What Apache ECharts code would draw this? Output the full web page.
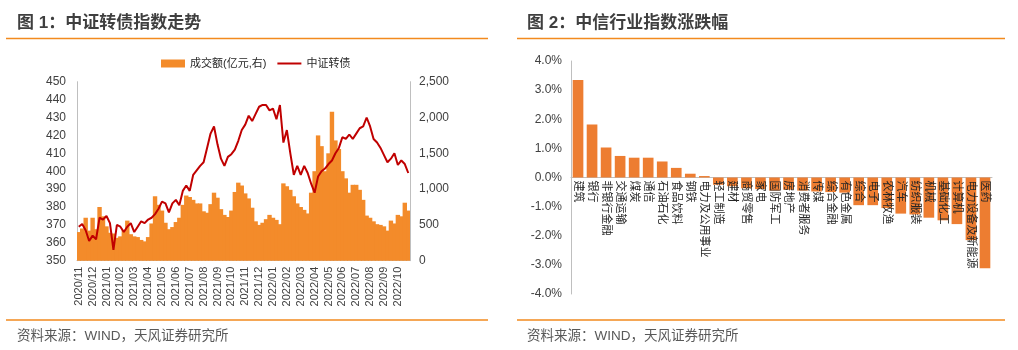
<!DOCTYPE html>
<html>
<head>
<meta charset="utf-8">
<script src="https://cdn.jsdelivr.net/npm/echarts@6/dist/echarts.min.js"></script>
<style>
  html, body { margin: 0; padding: 0; background: #fff; }
  #main { width: 1018px; height: 350px; }
</style>
</head>
<body>
<div id="main"></div>
<script>
// 图1：月份（每月 4 个观察点，约按周）
const months = ['2020/11', '2020/12', '2021/01', '2021/02', '2021/03', '2021/04', '2021/05', '2021/06',
  '2021/07', '2021/08', '2021/09', '2021/10', '2021/11', '2021/12', '2022/01', '2022/02',
  '2022/03', '2022/04', '2022/05', '2022/06', '2022/07', '2022/08', '2022/09', '2022/10'];

// 中证转债（左轴）
const bondIndex = [
  369, 370.5, 367, 361, 364, 362, 374, 373, 375, 371, 356, 370,
  369, 366, 369, 371, 366, 369, 372, 371, 373, 374, 376, 379,
  383, 382, 377, 382, 384, 381, 389, 392, 389, 398, 400.5, 403,
  405, 413, 421, 425, 415, 407, 403, 408, 409.5, 412, 417, 423,
  426, 431, 428, 432, 436, 437, 437, 434, 435, 429, 437, 416,
  423, 410, 398, 403, 398, 403, 399, 393, 388, 397, 400, 401.5,
  404, 406, 410, 413, 419, 418, 420.5, 418, 421, 424, 425, 430,
  425, 418, 416, 413, 409, 405, 407, 410, 403.5, 406, 404, 399
];

// 成交额（亿元，右轴）
const turnover = [
  400, 450, 600, 420, 600, 440, 750, 620, 480, 390, 380, 320,
  340, 430, 560, 370, 340, 330, 290, 270, 330, 520, 900, 780,
  700, 530, 440, 470, 540, 600, 780, 910, 890, 850, 800, 800,
  690, 670, 790, 950, 880, 720, 640, 610, 700, 960, 1090, 1050,
  940, 870, 740, 550, 500, 530, 580, 640, 600, 570, 510, 1080,
  1040, 990, 900, 800, 750, 710, 660, 950, 1250, 1750, 1600, 1250,
  1500, 2080, 1680, 1560, 1250, 1150, 950, 1060, 1060, 990, 850, 630,
  600, 550, 510, 500, 480, 420, 560, 520, 640, 620, 810, 700
];

// 图2：中信行业指数涨跌幅（%）
const industries = ['建筑', '银行', '非银行金融', '交通运输', '煤炭', '通信', '石油石化', '食品饮料',
  '钢铁', '电力及公用事业', '轻工制造', '建材', '商贸零售', '家电', '国防军工', '房地产',
  '消费者服务', '传媒', '综合金融', '有色金属', '综合', '电子', '农林牧渔', '汽车',
  '纺织服装', '机械', '基础化工', '计算机', '电力设备及新能源', '医药'];
const changes = [3.35, 1.82, 1.03, 0.74, 0.68, 0.68, 0.55, 0.33,
  0.13, 0.05, -0.25, -0.3, -0.37, -0.4, -0.45, -0.42,
  -0.45, -0.48, -0.5, -0.52, -0.95, -0.95, -1.05, -1.24,
  -1.27, -1.38, -1.47, -1.6, -2.15, -3.12];

const PER_MONTH = 4;
const FONT = '"Liberation Sans", "Noto Sans CJK SC", sans-serif';
const ORANGE_RULE = '#F28A1E';
const AXIS_GRAY = '#BFBFBF';
const TEXT = '#404040';
const BAR1 = '#F38B2A';

// 图2 网格：0 轴位于正中，类目标签贴着 0 轴
const G2_TOP = 61, G2_H = 233;

// 类目：每月 4 个点，标签只在每月第一个点显示
const cats = [];
months.forEach(m => {
  for (let k = 0; k < PER_MONTH; k++) cats.push(m + '#' + k);
});

const chart = echarts.init(document.getElementById('main'), null, { renderer: 'canvas' });

function titleText(x, str) {
  return {
    type: 'text',
    x: x, y: 23.5,
    style: {
      text: str,
      fontSize: 17,
      fontWeight: 'bold',
      fontFamily: FONT,
      fill: '#3F3F3F',
      verticalAlign: 'middle'
    }
  };
}
function rule(x1, x2, y) {
  return {
    type: 'line',
    shape: { x1: x1, y1: y, x2: x2, y2: y },
    style: { stroke: ORANGE_RULE, lineWidth: 1.5 }
  };
}
function source(x) {
  return {
    type: 'text',
    x: x, y: 336.5,
    style: {
      text: '资料来源：WIND，天风证券研究所',
      fontSize: 13.5,
      fontFamily: FONT,
      fill: '#595959',
      verticalAlign: 'middle'
    }
  };
}

const option = {
  backgroundColor: '#fff',
  animation: false,
  textStyle: { fontFamily: FONT },
  graphic: [
    titleText(17, '图 1：中证转债指数走势'),
    titleText(527, '图 2：中信行业指数涨跌幅'),
    rule(6, 488, 38.5), rule(517, 1005, 38.5),
    rule(6, 488, 320), rule(517, 1005, 320),
    source(17), source(527)
  ],
  legend: {
    left: 156, top: 53,
    itemWidth: 24, itemHeight: 8, itemGap: 11,
    textStyle: { fontSize: 11, color: '#262626', fontFamily: FONT },
    data: [
      { name: '成交额(亿元,右)', icon: 'rect' },
      { name: '中证转债', icon: 'path://M0,0 L24,0 L24,2 L0,2 Z' }
    ]
  },
  grid: [
    { left: 77, top: 81.7, width: 333, height: 179, outerBoundsMode: 'none' },
    { left: 571, top: G2_TOP, width: 421, height: G2_H, outerBoundsMode: 'none' }
  ],
  xAxis: [
    {
      type: 'category',
      gridIndex: 0,
      data: cats,
      boundaryGap: true,
      axisTick: { show: false },
      axisLine: { show: true, lineStyle: { color: AXIS_GRAY } },
      axisLabel: {
        rotate: 90,
        interval: idx => idx % PER_MONTH === 0,
        formatter: v => v.split('#')[0],
        fontSize: 11,
        color: TEXT,
        margin: 6
      },
      splitLine: { show: false }
    },
    {
      type: 'category',
      gridIndex: 1,
      data: industries,
      axisTick: { show: false },
      axisLine: { show: true, onZero: true, lineStyle: { color: AXIS_GRAY } },
      axisLabel: { show: false },
      splitLine: { show: false }
    },
    {
      // 只负责类目标签，平移到 0 轴下方，压在柱子上
      type: 'category',
      gridIndex: 1,
      data: industries,
      position: 'bottom',
      offset: -G2_H / 2,
      z: 5,
      axisTick: { show: false },
      axisLine: { show: false, onZero: false },
      axisLabel: {
        rotate: -90,
        interval: 0,
        fontSize: 11,
        color: '#262626',
        margin: 3
      },
      splitLine: { show: false }
    }
  ],
  yAxis: [
    {
      type: 'value',
      gridIndex: 0,
      min: 350, max: 450, interval: 10,
      axisLine: { show: true, lineStyle: { color: AXIS_GRAY } },
      axisTick: { show: false },
      splitLine: { show: false },
      axisLabel: { fontSize: 12, color: TEXT, margin: 11 }
    },
    {
      type: 'value',
      gridIndex: 0,
      position: 'right',
      min: 0, max: 2500, interval: 500,
      axisLine: { show: true, lineStyle: { color: AXIS_GRAY } },
      axisTick: { show: false },
      splitLine: { show: false },
      axisLabel: { fontSize: 12, color: TEXT, margin: 9 }
    },
    {
      type: 'value',
      gridIndex: 1,
      min: -4, max: 4, interval: 1,
      axisLine: { show: true, lineStyle: { color: AXIS_GRAY } },
      axisTick: { show: false },
      splitLine: { show: false },
      axisLabel: {
        fontSize: 12, color: TEXT, margin: 9,
        formatter: v => v.toFixed(1) + '%'
      }
    }
  ],
  series: [
    {
      name: '成交额(亿元,右)',
      type: 'bar',
      xAxisIndex: 0,
      yAxisIndex: 1,
      data: turnover,
      barWidth: 4.4,
      itemStyle: { color: BAR1 },
      z: 1
    },
    {
      name: '中证转债',
      type: 'line',
      xAxisIndex: 0,
      yAxisIndex: 0,
      data: bondIndex,
      symbol: 'none',
      lineStyle: { color: '#C00000', width: 2 },
      itemStyle: { color: '#C00000' },
      z: 3
    },
    {
      name: '涨跌幅',
      type: 'bar',
      xAxisIndex: 1,
      yAxisIndex: 2,
      data: changes,
      barCategoryGap: '24%',
      itemStyle: { color: '#ED7D31' }
    }
  ]
};

chart.setOption(option);
</script>
</body>
</html>
